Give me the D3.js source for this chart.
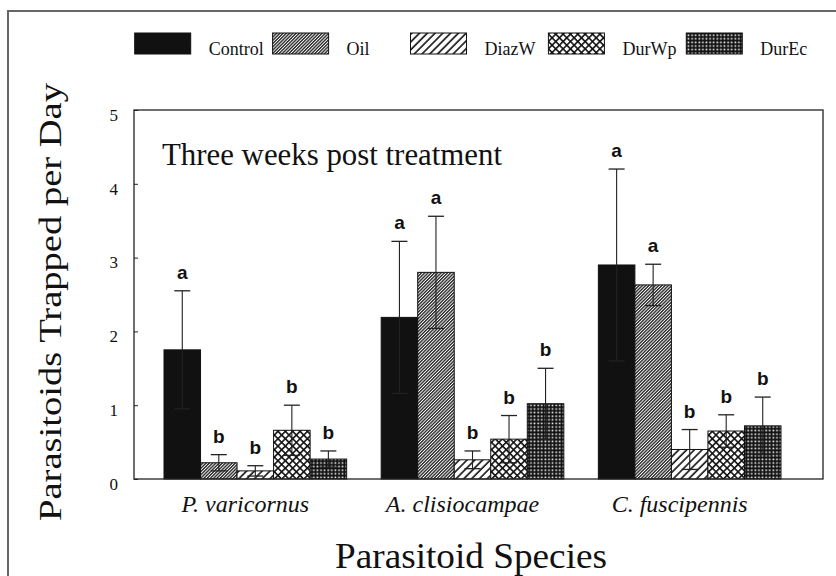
<!DOCTYPE html>
<html>
<head>
<meta charset="utf-8">
<script src="https://cdn.jsdelivr.net/npm/d3@7"></script>
<style>
  body { margin: 0; background: #fff; }
</style>
</head>
<body>
<div id="chart"></div>
<script>
// species groups and treatments
const species = ['P. varicornus', 'A. clisiocampae', 'C. fuscipennis'];
const treatments = ['Control', 'Oil', 'DiazW', 'DurWp', 'DurEc'];

// mean parasitoids trapped per day, one array per treatment (same order as species)
const control = [1.75, 2.19, 2.90];
const oil     = [0.22, 2.80, 2.63];
const diazW   = [0.11, 0.26, 0.40];
const durWp   = [0.66, 0.54, 0.65];
const durEc   = [0.27, 1.02, 0.72];

// standard errors
const controlErr = [0.80, 1.03, 1.30];
const oilErr     = [0.11, 0.76, 0.28];
const diazWErr   = [0.07, 0.12, 0.27];
const durWpErr   = [0.34, 0.32, 0.22];
const durEcErr   = [0.11, 0.48, 0.39];

// significance letters
const controlSig = ['a', 'a', 'a'];
const oilSig     = ['b', 'a', 'a'];
const diazWSig   = ['b', 'b', 'b'];
const durWpSig   = ['b', 'b', 'b'];
const durEcSig   = ['b', 'b', 'b'];

const yTicks = [0, 1, 2, 3, 4, 5];

const means = [control, oil, diazW, durWp, durEc];
const errs = [controlErr, oilErr, diazWErr, durWpErr, durEcErr];
const sigs = [controlSig, oilSig, diazWSig, durWpSig, durEcSig];

// flatten into one row per bar
const data = [];
species.forEach((sp, i) => {
  treatments.forEach((t, j) => {
    data.push({species: sp, treatment: t, value: means[j][i], err: errs[j][i], sig: sigs[j][i]});
  });
});

const SERIF = '"Liberation Serif", "Times New Roman", Times, serif';
const SANS = '"Liberation Sans", Arial, Helvetica, sans-serif';

const width = 836, height = 576;
const frame = {left: 134, right: 823, top: 110, bottom: 479};

const svg = d3.select('#chart').append('svg')
    .attr('width', width)
    .attr('height', height);

// hatch patterns
const defs = svg.append('defs');

const solid = defs.append('pattern').attr('id', 'p-Control')
    .attr('patternUnits', 'userSpaceOnUse').attr('width', 4).attr('height', 4);
solid.append('rect').attr('width', 4).attr('height', 4).attr('fill', '#111');

const oilP = defs.append('pattern').attr('id', 'p-Oil')
    .attr('patternUnits', 'userSpaceOnUse').attr('width', 2.3).attr('height', 10)
    .attr('patternTransform', 'rotate(45)');
oilP.append('rect').attr('width', 2.3).attr('height', 10).attr('fill', '#fff');
oilP.append('line').attr('x1', 0.7).attr('x2', 0.7).attr('y1', 0).attr('y2', 10)
    .attr('stroke', '#1a1a1a').attr('stroke-width', 1.3);

const diazP = defs.append('pattern').attr('id', 'p-DiazW')
    .attr('patternUnits', 'userSpaceOnUse').attr('width', 5.5).attr('height', 10)
    .attr('patternTransform', 'rotate(45)');
diazP.append('rect').attr('width', 5.5).attr('height', 10).attr('fill', '#fff');
diazP.append('line').attr('x1', 1).attr('x2', 1).attr('y1', 0).attr('y2', 10)
    .attr('stroke', '#111').attr('stroke-width', 1.6);

const wpP = defs.append('pattern').attr('id', 'p-DurWp')
    .attr('patternUnits', 'userSpaceOnUse').attr('width', 5.2).attr('height', 5.2)
    .attr('patternTransform', 'rotate(45)');
wpP.append('rect').attr('width', 5.2).attr('height', 5.2).attr('fill', '#fff');
wpP.append('line').attr('x1', 0).attr('x2', 5.2).attr('y1', 0).attr('y2', 0)
    .attr('stroke', '#111').attr('stroke-width', 3.2);
wpP.append('line').attr('x1', 0).attr('x2', 0).attr('y1', 0).attr('y2', 5.2)
    .attr('stroke', '#111').attr('stroke-width', 3.2);

const ecP = defs.append('pattern').attr('id', 'p-DurEc')
    .attr('patternUnits', 'userSpaceOnUse').attr('width', 3.6).attr('height', 3.6);
ecP.append('rect').attr('width', 3.6).attr('height', 3.6).attr('fill', '#111');
ecP.append('rect').attr('x', 1.4).attr('y', 1.4).attr('width', 1.6).attr('height', 1.6).attr('fill', '#fff');

// outer figure border
svg.append('rect')
    .attr('x', 8).attr('y', 11)
    .attr('width', 900).attr('height', 700)
    .attr('fill', 'none').attr('stroke', '#666').attr('stroke-width', 2);

// scales
const x0 = d3.scaleBand()
    .domain(species)
    .range([164, 781])
    .paddingInner(0.159)
    .paddingOuter(0);

const x1 = d3.scaleBand()
    .domain(treatments)
    .range([0, x0.bandwidth()]);

const y = d3.scaleLinear()
    .domain([0, 5])
    .range([frame.bottom, frame.top]);

// y axis: short ticks inside the frame
const yAxis = d3.axisLeft(y)
    .tickValues(yTicks)
    .tickFormat(d3.format('d'))
    .tickSize(-4)
    .tickPadding(16);

const yAxisG = svg.append('g')
    .attr('transform', `translate(${frame.left},0)`)
    .call(yAxis)
    .call(g => g.select('.domain').remove());
yAxisG.selectAll('text')
    .attr('dy', '0.6em')
    .attr('fill', '#111')
    .style('font-family', SERIF)
    .style('font-size', '17px');
yAxisG.selectAll('line').attr('stroke', '#222');

// x axis: category names only
const xAxisG = svg.append('g')
    .attr('transform', `translate(0,${frame.bottom})`)
    .call(d3.axisBottom(x0).tickSize(0).tickPadding(15.5))
    .call(g => g.select('.domain').remove());
xAxisG.selectAll('text')
    .attr('dx', -10)
    .attr('fill', '#111')
    .style('font-family', SERIF)
    .style('font-size', '24px')
    .style('font-style', 'italic');

// bars
const groups = svg.append('g').selectAll('g')
    .data(species)
    .join('g')
    .attr('transform', d => `translate(${x0(d)},0)`);

const bars = groups.selectAll('g.bar')
    .data(sp => data.filter(d => d.species === sp))
    .join('g')
    .attr('class', 'bar');

bars.append('rect')
    .attr('x', d => x1(d.treatment))
    .attr('y', d => y(d.value))
    .attr('width', x1.bandwidth())
    .attr('height', d => y(0) - y(d.value))
    .attr('fill', d => `url(#p-${d.treatment})`)
    .attr('stroke', '#111')
    .attr('stroke-width', 1);

// error bars
const cx = d => x1(d.treatment) + x1.bandwidth() / 2;
const capW = 8;
bars.append('line')
    .attr('x1', cx).attr('x2', cx)
    .attr('y1', d => y(Math.max(0, d.value - d.err)))
    .attr('y2', d => y(d.value + d.err))
    .attr('stroke', '#222').attr('stroke-width', 1.1);
bars.append('line')
    .attr('x1', d => cx(d) - capW).attr('x2', d => cx(d) + capW)
    .attr('y1', d => y(d.value + d.err)).attr('y2', d => y(d.value + d.err))
    .attr('stroke', '#222').attr('stroke-width', 1.3);
bars.append('line')
    .attr('x1', d => cx(d) - capW).attr('x2', d => cx(d) + capW)
    .attr('y1', d => y(Math.max(0, d.value - d.err))).attr('y2', d => y(Math.max(0, d.value - d.err)))
    .attr('stroke', '#222').attr('stroke-width', 1.3);

// significance letters
bars.append('text')
    .attr('x', cx)
    .attr('y', d => y(d.value + d.err) - 12)
    .attr('text-anchor', 'middle')
    .attr('fill', '#111')
    .style('font-family', SANS)
    .style('font-weight', 'bold')
    .style('font-size', '19px')
    .text(d => d.sig);

// plot frame
svg.append('rect')
    .attr('x', frame.left).attr('y', frame.top)
    .attr('width', frame.right - frame.left)
    .attr('height', frame.bottom - frame.top)
    .attr('fill', 'none').attr('stroke', '#222').attr('stroke-width', 1.3);

// panel label
svg.append('text')
    .attr('x', 162).attr('y', 165)
    .attr('textLength', 340).attr('lengthAdjust', 'spacingAndGlyphs')
    .attr('fill', '#111')
    .style('font-family', SERIF)
    .style('font-size', '32px')
    .text('Three weeks post treatment');

// axis titles
svg.append('text')
    .attr('transform', 'translate(61,302) rotate(-90)')
    .attr('text-anchor', 'middle')
    .attr('textLength', 438).attr('lengthAdjust', 'spacingAndGlyphs')
    .attr('fill', '#111')
    .style('font-family', SERIF)
    .style('font-size', '31px')
    .text('Parasitoids Trapped per Day');

svg.append('text')
    .attr('x', 471).attr('y', 568)
    .attr('text-anchor', 'middle')
    .attr('textLength', 272).attr('lengthAdjust', 'spacingAndGlyphs')
    .attr('fill', '#111')
    .style('font-family', SERIF)
    .style('font-size', '35px')
    .text('Parasitoid Species');

// legend
const legend = svg.append('g').selectAll('g')
    .data(treatments)
    .join('g')
    .attr('transform', (d, i) => `translate(${134.7 + i * 137.9},33)`);

legend.append('rect')
    .attr('width', 56).attr('height', 21)
    .attr('fill', d => `url(#p-${d})`)
    .attr('stroke', '#111').attr('stroke-width', 1);

legend.append('text')
    .attr('x', 74).attr('y', 22)
    .attr('fill', '#111')
    .style('font-family', SERIF)
    .style('font-size', '18px')
    .text(d => d);
</script>
</body>
</html>
